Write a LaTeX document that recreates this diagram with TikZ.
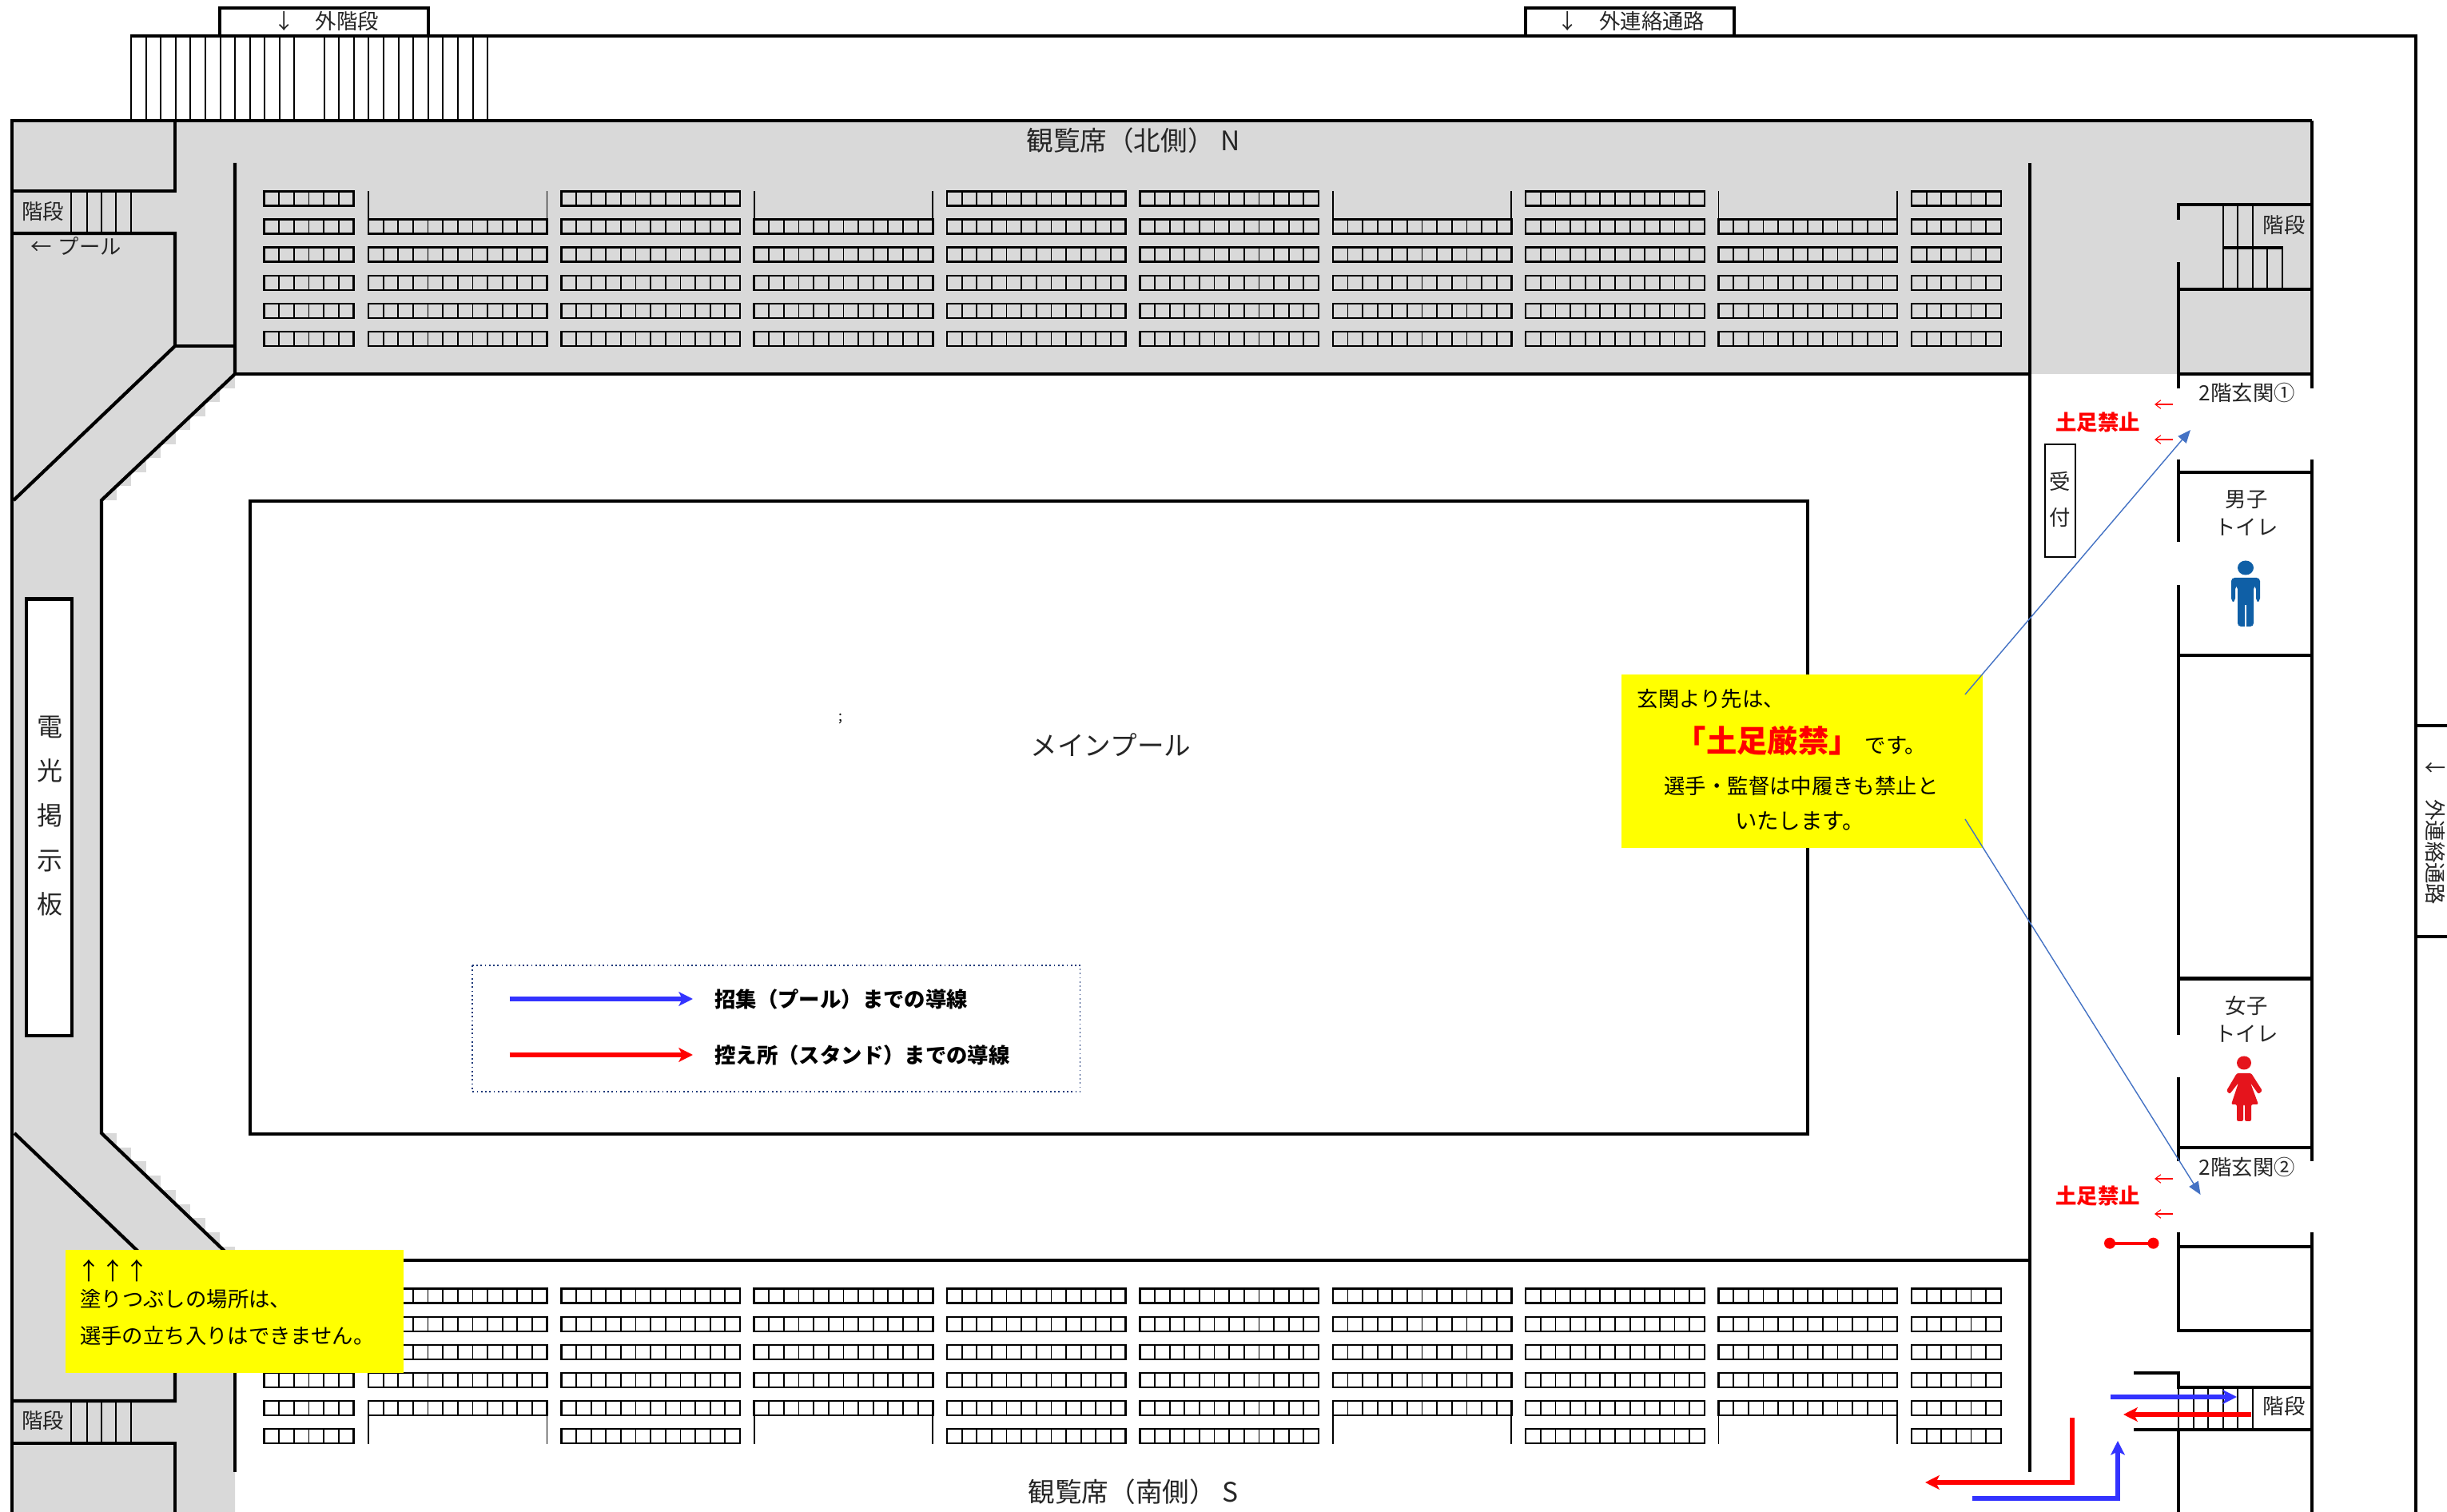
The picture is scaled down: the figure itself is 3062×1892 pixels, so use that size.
\documentclass[tikz,border=0pt]{standalone}
\usepackage{fontspec}
\setmainfont{Noto Sans CJK JP}
\usetikzlibrary{arrows.meta}
\definecolor{hall}{HTML}{D9D9D9}
\definecolor{note}{HTML}{FFFF00}
\definecolor{linkblue}{HTML}{4472C4}
\definecolor{routeblue}{HTML}{3333FF}
\definecolor{routered}{HTML}{FF0000}
\definecolor{manblue}{HTML}{0F5FA6}
\definecolor{womanred}{HTML}{E5141C}
\definecolor{inktext}{HTML}{262626}
\definecolor{legendline}{HTML}{1F3A7A}
\newcommand{\seatblock}[3]{%
  \draw[seatedge] (#1,#2) rectangle ++({#3*18.63},18);
  \foreach \k in {1,...,\numexpr#3-1\relax}{\draw[seatcell] ({#1+\k*18.63},#2) -- ++(0,18);}%
}
\tikzset{
  wall/.style={draw=black,line width=1.2pt},
  thinwall/.style={draw=black,line width=.55pt},
  seatedge/.style={draw=black,line width=.7pt},
  seatcell/.style={draw=black,line width=.5pt},
  txt/.style={inner sep=0pt,text=inktext,font=\fontsize{7.5pt}{9pt}\selectfont},
  bigtxt/.style={txt,font=\fontsize{9.55pt}{11pt}\selectfont},
  blk/.style={txt,text=black},
  noticeword/.style={inner sep=0pt,text=routered,font=\fontsize{7.5pt}{9pt}\selectfont\bfseries},
  route/.style={line width=1.7pt,-{Stealth[length=5pt,width=5pt,inset=1.2pt]}},
  pointer/.style={draw=linkblue,line width=.4pt,-{Triangle[length=4.6pt,width=3.8pt]}},
  keepout/.style={draw=routered,line width=.3pt,-{Straight Barb[length=2pt,width=3pt]}},
}
\begin{document}
\begin{tikzpicture}[x=0.01cm,y=-0.01cm]
\useasboundingbox (0,0) rectangle (3062,1892);
\fill[white] (0,0) rectangle (3062,1892);
% grey floor
\fill[hall] (15,151) -- (2893,151) -- (2893,468) -- (294,468) -- (127,626) -- (127,1418) -- (294,1578) -- (294,1892) -- (15,1892) -- cycle;
\foreach \i in {0,...,8}{
  \fill[hall] ({127+18.55*\i},{626-17.5*(\i+1)}) rectangle ++(18.55,17.5);
  \fill[hall] ({127+18.55*\i},{1418+17.75*\i}) rectangle ++(18.55,17.75);
}
% north seats
\foreach \y in {239.3,274.5,309.7,345,380,415}{
  \seatblock{330.5}{\y}{6}
  \seatblock{2392}{\y}{6}
  \foreach \x in {702.4,1185,1426.4,1909.2}{\seatblock{\x}{\y}{12}}
}
\foreach \y in {274.5,309.7,345,380,415}{
  \foreach \x in {461,943.7,1667.8,2150.5}{\seatblock{\x}{\y}{12}}
}
\foreach \x in {461,943.7,1667.8,2150.5}{
  \draw[seatcell] (\x,239) -- (\x,275);
  \draw[seatcell] ({\x+223.5},239) -- ({\x+223.5},275);
}
% south seats
\foreach \y in {1612.5,1648,1683,1718,1753,1788}{
  \seatblock{330.5}{\y}{6}
  \seatblock{2392}{\y}{6}
  \foreach \x in {702.4,1185,1426.4,1909.2}{\seatblock{\x}{\y}{12}}
}
\foreach \y in {1612.5,1648,1683,1718,1753}{
  \foreach \x in {461,943.7,1667.8,2150.5}{\seatblock{\x}{\y}{12}}
}
\foreach \x in {461,943.7,1667.8,2150.5}{
  \draw[seatcell] (\x,1771) -- (\x,1807);
  \draw[seatcell] ({\x+223.5},1771) -- ({\x+223.5},1807);
}
% outer stairs
\foreach \x in {164,182.6,201.2,219.8,238.4,257,275.6,294.2,312.8,331.4,350,368,405.6,424.2,442.8,461.4,480,498.6,517.2,535.8,554.4,573,591.6,610}{
  \draw[thinwall] (\x,45) -- (\x,151);
}
% walls
\draw[wall,fill=white] (275,45) -- (275,10) -- (536,10) -- (536,45);
\draw[wall,fill=white] (1909,45) -- (1909,10) -- (2170,10) -- (2170,45);
\draw[wall] (163,45) -- (3023,45) -- (3023,1892);
\draw[wall] (3062,908) -- (3023,908);
\draw[wall] (3062,1172) -- (3023,1172);
\draw[wall] (15,151) -- (2893,151);
\draw[wall] (15,149) -- (15,1892);
% left side, upper
\draw[wall] (219,151) -- (219,239) -- (15,239);
\draw[wall] (15,292) -- (219,292) -- (219,433) -- (17,626);
\draw[wall] (219,433) -- (294,433);
\draw[wall] (294,204) -- (294,468) -- (127,626) -- (127,1418) -- (294,1578);
\foreach \x in {89,108.7,127,145.4,164.3}{\draw[thinwall] (\x,239) -- (\x,292);}
% left side, lower
\draw[wall] (18,1418) -- (219,1610) -- (219,1753) -- (15,1753);
\draw[wall] (15,1806) -- (219,1806) -- (219,1892);
\draw[wall] (294,1578) -- (294,1842);
\foreach \x in {89,108.7,127,145.4,164.3}{\draw[thinwall] (\x,1753) -- (\x,1806);}
% stand edges
\draw[wall] (294,468) -- (2540,468);
\draw[wall] (294,1577) -- (2540,1577);
\draw[wall] (2540,204) -- (2540,1842);
% east block, upper
\draw[wall] (2726,274.6) -- (2726,254.5);
\draw[wall] (2726,256) -- (2893,256);
\draw[wall] (2726,328) -- (2726,486);
\draw[wall] (2726,362) -- (2893,362);
\draw[wall] (2726,468) -- (2893,468);
\draw[wall] (2893,151) -- (2893,486);
\foreach \x in {2782,2800,2818.6}{\draw[thinwall] (\x,256) -- (\x,310);}
\draw[wall] (2782,310) -- (2856.6,310);
\foreach \x in {2782,2800,2818.6,2837,2856}{\draw[thinwall] (\x,310) -- (\x,362);}
% east block, toilets
\draw[wall] (2726,574.6) -- (2726,678);
\draw[wall] (2726,732) -- (2726,1295);
\draw[wall] (2726,1348) -- (2726,1453);
\draw[wall] (2893,574.6) -- (2893,1453);
\draw[wall] (2726,591) -- (2893,591);
\draw[wall] (2726,820) -- (2893,820);
\draw[wall] (2726,1224.5) -- (2893,1224.5);
\draw[wall] (2726,1436) -- (2893,1436);
% east block, lower
\draw[wall] (2726,1542) -- (2726,1667);
\draw[wall] (2726,1560) -- (2893,1560);
\draw[wall] (2726,1665) -- (2893,1665);
\draw[wall] (2893,1542) -- (2893,1892);
\draw[wall] (2670,1718) -- (2726,1718) -- (2726,1736) -- (2893,1736);
\draw[wall] (2670,1789) -- (2893,1789);
\draw[wall] (2726,1789) -- (2726,1892);
\foreach \x in {2726,2745,2763,2782,2800,2819}{\draw[thinwall] (\x,1736) -- (\x,1789);}
% pool, scoreboard, reception
\draw[wall] (312.7,627) rectangle (2262,1419);
\draw[wall,fill=white] (33,749.5) rectangle (90,1296);
\draw[thinwall,fill=white] (2559,556) rectangle (2597,697);
% legend
\draw[legendline,densely dotted,line width=.5pt] (591,1208) rectangle (1351.6,1366);
\coordinate (legBlueA) at (637.7,1250);
\coordinate (legBlueB) at (867,1250);
\coordinate (legRedA) at (637.7,1320);
\coordinate (legRedB) at (867,1320);
\draw[route,routeblue] (legBlueA) -- (legBlueB);
\draw[route,routered] (legRedA) -- (legRedB);
% notes
\fill[note] (81.6,1564) rectangle (505,1718);
\fill[note] (2028.7,844) rectangle (2481.4,1061);
% pointers
\coordinate (ptrA) at (2459,869);
\coordinate (ptrB) at (2741,538);
\coordinate (ptrC) at (2459,1025);
\coordinate (ptrD) at (2753.6,1495);
\draw[pointer] (ptrA) -- (ptrB);
\draw[pointer] (ptrC) -- (ptrD);
% keep-out arrows
\foreach \n/\y in {ka/506,kb/550,kc/1475,kd/1519}{
  \coordinate (\n1) at (2718.6,\y);
  \coordinate (\n2) at (2696,\y);
  \draw[keepout] (\n1) -- (\n2);
}
% barrier
\coordinate (barA) at (2640,1555.7);
\coordinate (barB) at (2694.5,1555.7);
\draw[routered,line width=1.2pt] (barA) -- (barB);
\fill[routered] (barA) circle (7);
\fill[routered] (barB) circle (7);
% routes
\coordinate (rbA) at (2640.5,1748);
\coordinate (rbB) at (2799,1748);
\coordinate (rrA) at (2817,1770);
\coordinate (rrB) at (2657,1770);
\coordinate (erA) at (2593,1774);
\coordinate (erB) at (2593,1855);
\coordinate (erC) at (2409,1855);
\coordinate (ebA) at (2468,1875);
\coordinate (ebB) at (2650,1875);
\coordinate (ebC) at (2650,1803);
\draw[route,routeblue] (rbA) -- (rbB);
\draw[route,routered] (rrA) -- (rrB);
\draw[route,routered] (erA) -- (erB) -- (erC);
\draw[route,routeblue] (ebA) -- (ebB) -- (ebC);
% man
\fill[manblue] (2810,710.5) ellipse (10 and 9);
\fill[manblue,rounded corners=1.2pt] (2792,753) -- (2792,723) -- (2828,723) -- (2828,753) -- (2823,753) -- (2823,733) -- (2820,733) -- (2820,784) -- (2800,784) -- (2800,733) -- (2797,733) -- (2797,753) -- cycle;
\draw[white,line width=.3pt] (2810,757) -- (2810,784);
% woman
\fill[womanred] (2808,1330) ellipse (9 and 8.5);
\fill[womanred,rounded corners=.6pt] (2799,1343) -- (2817,1343) -- (2831,1365) -- (2826,1369) -- (2816,1355) -- (2826,1382) -- (2817,1382) -- (2817,1403) -- (2809,1403) -- (2809,1382) -- (2807,1382) -- (2807,1403) -- (2799,1403) -- (2799,1382) -- (2792,1382) -- (2801,1355) -- (2790,1369) -- (2786,1365) -- cycle;
% labels
\node[txt] (tExtStair) at (408,27) {↓　外階段};
\node[txt] (tExtLink) at (2041,27) {↓　外連絡通路};
\node[txt,rotate=-90] (tExtLinkE) at (3047,1040) {↓　外連絡通路};
\node[bigtxt] (tNorth) at (1418,176) {観覧席（北側） N};
\node[bigtxt] (tSouth) at (1418,1867) {観覧席（南側） S};
\node[bigtxt] (tPool) at (1390,932) {メインプール};
\node[inner sep=0pt,font=\fontsize{5pt}{6pt}\selectfont] (tSpeck) at (1052,900) {;};
\node[txt] (tStairNW) at (54,265) {階段};
\node[txt] (tStairSW) at (54,1778) {階段};
\node[txt,anchor=west] (tToPool) at (38,308) {←\hspace{.3em}プール};
\node[txt,align=center,font=\fontsize{9.1pt}{15.8pt}\selectfont] (tBoard) at (62,1021) {電\\光\\掲\\示\\板};
\node[txt] (tStairNE) at (2858,281.5) {階段};
\node[txt] (tStairSE) at (2858,1760) {階段};
\node[txt] (tEntry1) at (2812,492) {2階玄関①};
\node[txt] (tEntry2) at (2812,1461) {2階玄関②};
\node[noticeword] (tNoShoes1) at (2625,528) {土足禁止};
\node[noticeword] (tNoShoes2) at (2625,1496) {土足禁止};
\node[txt,align=center,font=\fontsize{7.5pt}{12.8pt}\selectfont] (tDesk) at (2578,625) {受\\付};
\node[txt,align=center,font=\fontsize{7.5pt}{10pt}\selectfont] (tMen) at (2811,642) {男子\\トイレ};
\node[txt,align=center,font=\fontsize{7.5pt}{10pt}\selectfont] (tWomen) at (2811,1275) {女子\\トイレ};
% legend labels
\node[blk,anchor=west,font=\fontsize{7.5pt}{9pt}\selectfont\bfseries] (tLegBlue) at (893.7,1250) {招集（プール）までの導線};
\node[blk,anchor=west,font=\fontsize{7.5pt}{9pt}\selectfont\bfseries] (tLegRed) at (893.7,1320) {控え所（スタンド）までの導線};
% left note
\node[blk,anchor=west,font=\fontsize{8.5pt}{10pt}\selectfont] (tUp) at (95.7,1590) {↑↑↑};
\node[blk,anchor=west] (tFill) at (99.5,1626) {塗りつぶしの場所は、};
\node[blk,anchor=west] (tEnter) at (99.5,1671) {選手の立ち入りはできません。};
% right note
\node[blk,anchor=west] (tBeyond) at (2048,875) {玄関より先は、};
\node[inner sep=0pt,anchor=west,text=routered,font=\fontsize{10.9pt}{12pt}\selectfont\bfseries] (tStrict) at (2096,927) {「土足厳禁」};
\node[blk,anchor=west] (tDesu) at (2333,933) {です。};
\node[blk] (tPlayers) at (2254,983) {選手・監督は中履きも禁止と};
\node[blk,font=\fontsize{7.8pt}{9pt}\selectfont] (tForbid) at (2252,1027) {いたします。};
\end{tikzpicture}
\end{document}
